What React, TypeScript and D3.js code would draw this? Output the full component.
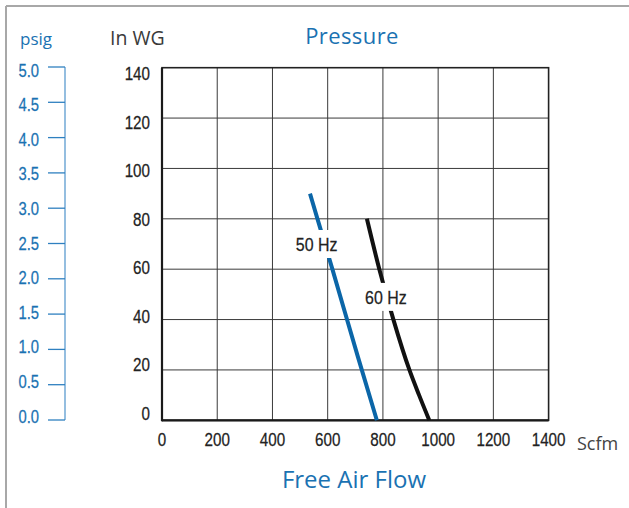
import React from "react";
import * as d3 from "d3";

// ticks / labels
const flowTicks = [0, 200, 400, 600, 800, 1000, 1200, 1400];
const inwgTicks = [0, 20, 40, 60, 80, 100, 120, 140];
const psigTicks = [0, 0.5, 1, 1.5, 2, 2.5, 3, 3.5, 4, 4.5, 5];

// 50 Hz curve (Scfm vs In WG)
const flow50 = [536, 563, 617, 710, 778];
const press50 = [90, 80, 60, 25, 0];

// 60 Hz curve
const flow60 = [742, 787, 838, 896, 931, 968];
const press60 = [80, 60, 40, 20, 10, 0];

const curveNames = ["50 Hz", "60 Hz"];
const labelFlow = [560, 811];
const labelPress = [70, 49];

const BLUE_TEXT = "#1a72b2";
const BLUE_LINE = "#0b66a8";
const SANS = "'Liberation Sans', Arial, sans-serif";
const HUMAN = "'Open Sans', 'Noto Sans', sans-serif";

// condensed look: regular sans squeezed horizontally
const Narrow = ({ x, y, anchor = "middle", fill = "#222", size = 19, sx = 0.8, children }: any) => (
  <g transform={`translate(${x},${y}) scale(${sx},1)`}>
    <text
      x={0}
      y={0}
      dy="0.36em"
      textAnchor={anchor}
      fill={fill}
      stroke={fill}
      strokeWidth={0.25}
      fontFamily={SANS}
      fontSize={size}
    >
      {children}
    </text>
  </g>
);

const App = () => {
  const width = 629;
  const height = 508;

  const x = d3.scaleLinear().domain([0, 1400]).range([162, 548.6]);
  const y = d3.scaleLinear().domain([0, 140]).range([420.3, 67.7]);
  // tick label positions on the printed chart are slightly compressed
  const yLabel = d3.scaleLinear().domain([0, 140]).range([413, 73.5]);
  const psig = d3.scaleLinear().domain([0, 5]).range([420, 67]);
  const psigLabel = d3.scaleLinear().domain([0, 5]).range([416, 70]);

  const line = d3
    .line<[number, number]>()
    .x((d) => x(d[0]))
    .y((d) => y(d[1]))
    .curve(d3.curveMonotoneX);

  const pts50 = flow50.map((f, i) => [f, press50[i]] as [number, number]);
  const pts60 = flow60.map((f, i) => [f, press60[i]] as [number, number]);

  const [x0, x1] = x.range();
  const [y0, y1] = y.range();

  return (
    <svg
      width={width}
      height={height}
      style={{ position: "absolute", left: 0, top: 0, background: "#fff" }}
    >
      {/* page frame */}
      <line x1={6} x2={width} y1={6} y2={6} stroke="#a8a8a8" strokeWidth={2} />
      <line x1={6} x2={6} y1={6} y2={height} stroke="#a8a8a8" strokeWidth={2} />

      {/* titles */}
      <text x={352} y={43.5} textAnchor="middle" fill={BLUE_TEXT} fontFamily={HUMAN} fontSize={22} letterSpacing={0.4}>
        Pressure
      </text>
      <text x={354} y={488} textAnchor="middle" fill={BLUE_TEXT} fontFamily={HUMAN} fontSize={24}>
        Free Air Flow
      </text>
      <text x={20} y={45} fill={BLUE_TEXT} fontFamily={HUMAN} fontSize={17}>
        psig
      </text>
      <text x={110} y={44.5} fill="#3a3a3a" fontFamily={HUMAN} fontSize={19.5}>
        In WG
      </text>
      <text x={577} y={450} fill="#444" fontFamily={HUMAN} fontSize={18}>
        Scfm
      </text>

      {/* psig axis */}
      <line x1={65} x2={65} y1={psig(0)} y2={psig(5)} stroke="#5b9bd0" strokeWidth={1.3} />
      {psigTicks.map((t) => (
        <g key={"p" + t}>
          <line x1={48} x2={65} y1={psig(t)} y2={psig(t)} stroke="#2f80c0" strokeWidth={1.3} />
          <Narrow x={39} y={psigLabel(t)} anchor="end" fill={BLUE_TEXT} size={18.5}>
            {t.toFixed(1)}
          </Narrow>
        </g>
      ))}

      {/* grid */}
      {flowTicks.slice(1, -1).map((t) => (
        <line key={"gx" + t} x1={x(t)} x2={x(t)} y1={y1} y2={y0} stroke="#3a3a3a" strokeWidth={1} />
      ))}
      {inwgTicks.slice(1, -1).map((t) => (
        <line key={"gy" + t} x1={x0} x2={x1} y1={y(t)} y2={y(t)} stroke="#3a3a3a" strokeWidth={1} />
      ))}
      <rect x={x0} y={y1} width={x1 - x0} height={y0 - y1} fill="none" stroke="#222" strokeWidth={1.6} />
      <line x1={x0} x2={x0} y1={y1} y2={y0 + 1} stroke="#1a1a1a" strokeWidth={2.2} />
      <line x1={x0} x2={x1} y1={y0} y2={y0} stroke="#1a1a1a" strokeWidth={2.2} />

      {/* y tick labels */}
      {inwgTicks.map((t) => (
        <Narrow key={"yl" + t} x={150} y={yLabel(t)} anchor="end">
          {t}
        </Narrow>
      ))}

      {/* x tick labels */}
      {flowTicks.map((t) => (
        <Narrow key={"xl" + t} x={x(t)} y={439}>
          {t}
        </Narrow>
      ))}

      {/* curves */}
      <path d={line(pts50) || ""} fill="none" stroke={BLUE_LINE} strokeWidth={4} />
      <path d={line(pts60) || ""} fill="none" stroke="#111" strokeWidth={4} />

      {/* curve labels */}
      {curveNames.map((name, i) => {
        const cx = x(labelFlow[i]);
        const cy = y(labelPress[i]);
        return (
          <g key={name}>
            <rect x={cx - 23} y={cy - 14} width={46} height={28} fill="#fff" />
            <Narrow x={cx} y={cy} sx={0.84}>
              {name}
            </Narrow>
          </g>
        );
      })}
    </svg>
  );
};

export default App;
